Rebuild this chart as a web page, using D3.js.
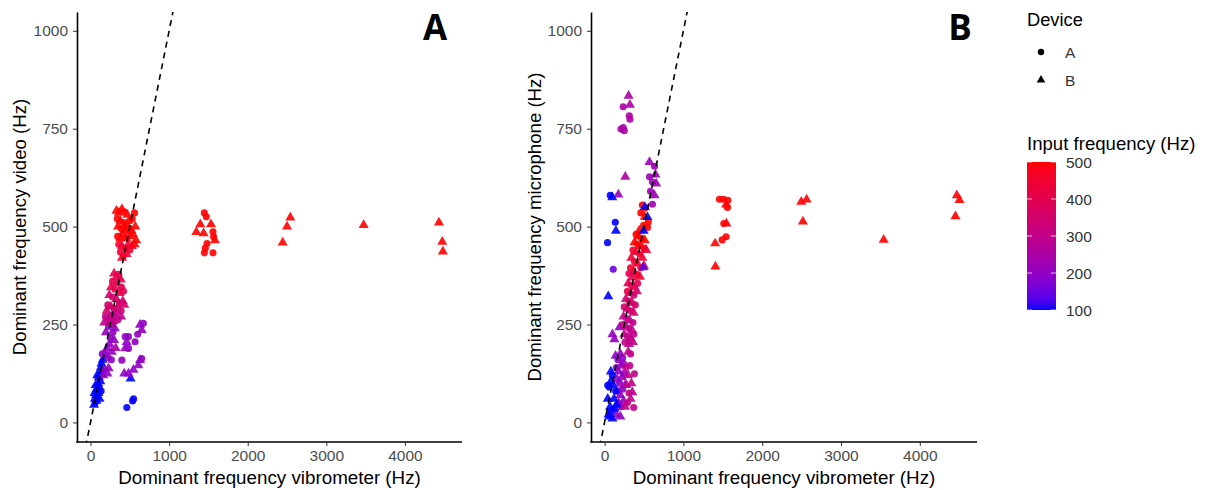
<!DOCTYPE html>
<html>
<head>
<meta charset="utf-8">
<script src="https://cdn.jsdelivr.net/npm/d3@7"></script>
<style>
  body { margin: 0; background: #fff; }
  text { font-family: "Liberation Sans", Arial, sans-serif; }
</style>
</head>
<body>
<script>
// each row: [vibrometer Hz, measured Hz, input frequency Hz, device]
var pointsA = [
  // blue band
  [45,45,100,'B'],[55,60,100,'B'],[60,50,100,'A'],[70,70,100,'B'],[75,55,100,'B'],[80,85,100,'B'],
  [90,65,100,'A'],[95,100,100,'B'],[100,75,100,'B'],[105,115,100,'B'],[110,90,100,'A'],[120,125,100,'B'],
  [125,105,100,'B'],[130,140,100,'B'],[140,150,100,'B'],[150,130,100,'A'],[155,160,100,'B'],[85,120,100,'B'],
  [65,95,100,'B'],[115,60,100,'B'],[135,80,100,'A'],[50,75,100,'B'],
  [462,38,100,'A'],[535,55,100,'A'],[548,60,100,'A'],[510,112,100,'B'],
  // purple, left band
  [160,120,200,'B'],[175,135,200,'A'],[190,175,200,'A'],[210,190,200,'B'],[225,165,200,'A'],[240,200,200,'B'],
  [255,215,200,'A'],[270,180,200,'B'],[285,230,200,'A'],[300,210,200,'B'],[150,175,200,'A'],[195,230,200,'B'],
  [230,245,200,'A'],[265,160,200,'A'],[310,240,200,'B'],[280,250,250,'A'],[245,255,250,'B'],[320,190,250,'B'],
  [230,138,200,'B'],[215,125,200,'B'],
  // purple, right group
  [441,219,200,'A'],[483,219,200,'A'],[441,189,200,'B'],[483,189,200,'A'],[399,159,200,'A'],[567,206,200,'A'],
  [672,253,200,'A'],[630,249,200,'B'],[651,236,200,'B'],[651,163,200,'A'],[630,159,200,'B'],[609,146,200,'B'],
  [546,134,200,'B'],[483,125,200,'B'],[429,125,200,'B'],[600,225,200,'A'],[460,205,200,'B'],
  // magenta band
  [300,380,400,'B'],[330,372,400,'B'],[360,378,400,'A'],[385,365,400,'B'],[280,360,400,'A'],[340,355,400,'B'],
  [395,345,400,'A'],[260,345,400,'B'],[310,340,400,'A'],[370,330,400,'B'],[420,335,400,'A'],
  [240,325,350,'B'],[280,320,350,'A'],[330,315,350,'B'],[370,305,350,'A'],[410,310,350,'B'],[220,300,350,'A'],
  [260,295,350,'B'],[300,290,350,'A'],[345,295,350,'B'],[390,285,350,'A'],[430,300,350,'B'],[205,285,350,'B'],
  [190,270,300,'A'],[230,265,300,'B'],[270,275,300,'A'],[310,268,300,'B'],[350,262,300,'A'],[390,270,300,'B'],
  [250,255,300,'A'],[290,258,300,'B'],[175,255,300,'B'],[330,280,300,'A'],
  // red group
  [330,540,500,'B'],[360,535,500,'B'],[400,545,500,'B'],[430,538,500,'A'],[560,535,500,'A'],[470,530,500,'B'],
  [340,520,500,'A'],[380,515,500,'B'],[420,510,500,'A'],[460,505,500,'B'],[500,515,500,'A'],[530,520,500,'A'],
  [350,500,500,'B'],[390,495,500,'A'],[440,490,500,'B'],[480,495,500,'A'],[520,490,500,'B'],[570,500,500,'B'],
  [345,475,500,'A'],[380,470,500,'B'],[410,480,500,'A'],[455,470,500,'B'],[500,475,500,'B'],[540,480,500,'B'],
  [580,465,500,'B'],[360,455,450,'A'],[400,450,450,'B'],[440,445,450,'A'],[480,455,450,'B'],[525,450,450,'B'],
  [560,455,500,'B'],[380,435,450,'A'],[420,425,450,'A'],[460,430,450,'B'],[500,440,450,'A'],[400,420,450,'B'],
  // far red
  [1448,535,500,'A'],[1473,525,500,'A'],[1397,506,500,'B'],[1533,506,500,'B'],[1346,486,500,'B'],[1439,483,500,'B'],
  [1558,487,500,'A'],[1566,474,500,'A'],[1583,465,500,'B'],[1482,457,500,'A'],[1460,445,500,'A'],[1448,433,500,'A'],
  [1558,433,500,'A'],
  [2445,459,500,'B'],[2500,500,500,'B'],[2542,523,500,'B'],[3475,504,500,'B'],[4433,510,500,'B'],[4475,461,500,'B'],
  [4483,436,500,'B']
];

var pointsB = [
  // lower band
  [100,225,200,'B'],[125,212,200,'B'],[190,243,200,'B'],[140,170,200,'B'],[170,160,200,'A'],[200,175,200,'B'],
  [230,165,200,'A'],[150,140,200,'A'],[180,130,200,'B'],[210,145,200,'B'],[240,150,200,'A'],[160,110,200,'B'],
  [190,100,200,'A'],[220,115,200,'B'],[250,125,200,'A'],[170,80,200,'A'],[200,70,200,'B'],[230,85,200,'A'],
  [180,50,200,'B'],[210,40,200,'A'],[240,55,200,'B'],[200,15,200,'B'],[150,20,200,'B'],[260,95,200,'B'],
  [270,140,300,'A'],[300,120,300,'B'],[320,145,300,'A'],[280,95,300,'B'],[310,75,300,'A'],[340,100,300,'B'],
  [290,50,300,'A'],[330,60,300,'B'],[379,124,300,'A'],[370,38,300,'A'],[353,77,300,'B'],[260,40,300,'B'],
  [300,180,300,'B'],[330,175,300,'A'],
  [40,60,100,'B'],[60,90,100,'A'],[80,105,100,'B'],[100,120,100,'A'],[110,95,100,'B'],[70,40,100,'B'],
  [90,30,100,'A'],[120,60,100,'B'],[130,35,100,'B'],[50,20,100,'B'],[100,10,100,'B'],[140,80,100,'A'],
  [80,130,100,'B'],[60,15,100,'B'],[150,45,100,'B'],[40,95,100,'A'],
  // magenta band
  [300,355,400,'B'],[340,350,400,'A'],[380,345,400,'B'],[420,355,400,'A'],[290,335,400,'A'],[330,330,400,'B'],
  [370,325,350,'A'],[410,335,350,'B'],[270,315,350,'B'],[310,310,350,'A'],[350,305,350,'B'],[390,300,350,'A'],
  [250,295,350,'A'],[290,290,350,'B'],[330,285,350,'A'],[370,280,350,'B'],[240,270,300,'B'],[280,265,300,'A'],
  [320,260,300,'B'],[360,255,300,'A'],[230,250,300,'A'],[270,245,300,'B'],[310,240,300,'A'],[350,235,300,'B'],
  [250,225,300,'B'],[290,220,300,'A'],[330,215,300,'B'],[370,225,300,'A'],[260,205,300,'A'],[310,200,300,'B'],
  [360,205,300,'B'],
  // red band
  [480,555,500,'A'],[520,548,500,'A'],[460,535,500,'A'],[510,525,500,'B'],[555,512,500,'A'],[545,498,500,'A'],
  [495,503,500,'A'],[440,490,500,'B'],[400,480,500,'A'],[430,475,500,'B'],[470,470,500,'A'],[510,465,500,'B'],
  [380,460,500,'B'],[420,455,500,'A'],[460,450,500,'B'],[500,445,450,'A'],[530,440,450,'B'],[360,440,450,'A'],
  [400,435,450,'B'],[445,430,450,'A'],[480,420,450,'B'],[340,420,450,'B'],[380,410,450,'A'],[420,405,450,'B'],
  [460,395,450,'A'],[500,400,450,'B'],[330,395,450,'A'],[370,385,450,'B'],[410,378,450,'A'],[450,372,450,'B'],
  [350,370,400,'B'],[310,380,400,'A'],
  // outliers above the band
  [305,834,250,'B'],[322,811,250,'B'],[237,806,250,'A'],[314,783,250,'A'],[322,774,250,'A'],[237,753,250,'A'],
  [208,749,250,'A'],[250,745,250,'A'],[263,627,250,'B'],
  [570,665,220,'B'],[634,654,220,'A'],[570,627,220,'A'],[646,633,220,'B'],[608,614,220,'A'],[655,610,220,'B'],
  [583,590,220,'A'],[634,580,220,'B'],[608,557,220,'A'],[175,582,220,'B'],
  [72,580,100,'A'],[98,575,100,'B'],[136,511,100,'A'],[144,489,100,'B'],[38,459,100,'A'],[110,391,150,'A'],
  [47,322,100,'B'],[510,550,100,'B'],[545,524,100,'B'],[496,489,100,'B'],[492,396,130,'B'],
  // far red
  [1403,457,500,'B'],[1407,398,500,'B'],[1458,570,500,'A'],[1510,570,500,'A'],[1564,567,500,'A'],[1542,556,500,'B'],
  [1559,549,500,'A'],[1513,508,500,'A'],[1547,508,500,'B'],[1542,474,500,'A'],[1492,466,500,'A'],
  [2496,563,500,'B'],[2564,569,500,'B'],[2517,513,500,'B'],[3542,466,500,'B'],[4470,580,500,'B'],[4504,568,500,'B'],
  [4453,526,500,'B']
];

var xTicks = [0, 1000, 2000, 3000, 4000];
var yTicks = [0, 250, 500, 750, 1000];
var colourTicks = [100, 200, 300, 400, 500];
var devices = ['A', 'B'];

var svg = d3.select('body').append('svg')
  .attr('width', 1208)
  .attr('height', 490);

var colour = d3.scaleLinear()
  .domain([100, 500])
  .range(['blue', 'red'])
  .interpolate(d3.interpolateLab);

var shape = d3.scaleOrdinal()
  .domain(devices)
  .range([d3.symbolCircle, d3.symbolTriangle]);

var panels = [
  { id: 'A', data: pointsA, left: 77, right: 462, ytitle: 'Dominant frequency video (Hz)', ytitleX: 26, labelX: 435 },
  { id: 'B', data: pointsB, left: 591, right: 977, ytitle: 'Dominant frequency microphone (Hz)', ytitleX: 541, labelX: 960 }
];

var plotTop = 12, plotBottom = 442;

panels.forEach(function (p) {
  var x = d3.scaleLinear().domain([-172, 4726]).range([p.left, p.right]);
  var y = d3.scaleLinear().domain([-50, 1048]).range([plotBottom, plotTop]);

  var g = svg.append('g');

  g.append('clipPath')
    .attr('id', 'clip' + p.id)
    .append('rect')
    .attr('x', p.left)
    .attr('y', plotTop)
    .attr('width', p.right - p.left)
    .attr('height', plotBottom - plotTop);

  var plot = g.append('g').attr('clip-path', 'url(#clip' + p.id + ')');

  plot.selectAll('path.pt')
    .data(p.data)
    .enter().append('path')
    .attr('class', 'pt')
    .attr('transform', function (d) { return 'translate(' + x(d[0]) + ',' + y(d[1]) + ')'; })
    .attr('d', function (d) {
      return d3.symbol().type(shape(d[3])).size(d[3] == 'A' ? 40 : 44)();
    })
    .attr('fill', function (d) { return colour(d[2]); })
    .attr('fill-opacity', 0.9);

  // y = x reference
  plot.append('line')
    .attr('x1', x(-172)).attr('y1', y(-172))
    .attr('x2', x(1200)).attr('y2', y(1200))
    .attr('stroke', '#000')
    .attr('stroke-width', 1.6)
    .attr('stroke-dasharray', '6,5');

  var xa = g.append('g')
    .attr('transform', 'translate(0,' + plotBottom + ')')
    .call(d3.axisBottom(x).tickValues(xTicks).tickFormat(d3.format('d'))
      .tickSize(4).tickSizeOuter(0).tickPadding(4));

  var ya = g.append('g')
    .attr('transform', 'translate(' + p.left + ',0)')
    .call(d3.axisLeft(y).tickValues(yTicks).tickFormat(d3.format('d'))
      .tickSize(4).tickSizeOuter(0).tickPadding(5));

  [xa, ya].forEach(function (a) {
    a.select('.domain').attr('stroke', '#000').attr('stroke-width', 1.6);
    a.selectAll('.tick line').attr('stroke', '#333');
    a.selectAll('.tick text')
      .attr('fill', '#4D4D4D')
      .style('font-size', '15.5px')
      .style('font-family', '"Liberation Sans", Arial, sans-serif');
  });
  // extend x axis line to meet y axis
  xa.select('.domain').attr('d', 'M' + (p.left - 0.8) + ',0H' + p.right);

  g.append('text')
    .attr('x', (p.left + p.right) / 2)
    .attr('y', 484)
    .style('text-anchor', 'middle')
    .style('font-size', '18.8px')
    .text('Dominant frequency vibrometer (Hz)');

  g.append('text')
    .attr('transform', 'translate(' + p.ytitleX + ',' + ((plotTop + plotBottom) / 2) + ') rotate(-90)')
    .style('text-anchor', 'middle')
    .style('font-size', '18.6px')
    .text(p.ytitle);

  g.append('text')
    .attr('x', p.labelX)
    .attr('y', 40)
    .style('text-anchor', 'middle')
    .style('font-family', '"Open Sans", "DejaVu Sans", sans-serif')
    .style('font-weight', 'bold')
    .style('font-size', '35px')
    .text(p.id);
});

// legend: device
var leg = svg.append('g').attr('transform', 'translate(1027,0)');

leg.append('text')
  .attr('x', 0)
  .attr('y', 26)
  .style('font-size', '18.3px')
  .text('Device');

var items = leg.selectAll('g.dev')
  .data(devices)
  .enter().append('g')
  .attr('class', 'dev')
  .attr('transform', function (d, i) { return 'translate(0,' + (52 + i * 28) + ')'; });

items.append('path')
  .attr('transform', 'translate(14,0)')
  .attr('d', function (d) { return d3.symbol().type(shape(d)).size(32)(); })
  .attr('fill', '#000');

items.append('text')
  .attr('x', 38)
  .attr('dy', '0.36em')
  .style('font-size', '15.5px')
  .attr('fill', '#333')
  .text(function (d) { return d; });

// legend: colour bar
leg.append('text')
  .attr('x', 0)
  .attr('y', 150)
  .style('font-size', '18.6px')
  .text('Input frequency (Hz)');

var cy = d3.scaleLinear().domain([100, 500]).range([310, 162]);

var grad = svg.append('defs').append('linearGradient')
  .attr('id', 'cbar')
  .attr('x1', 0).attr('y1', 1).attr('x2', 0).attr('y2', 0);

grad.selectAll('stop')
  .data(d3.range(0, 1.0001, 0.05))
  .enter().append('stop')
  .attr('offset', function (d) { return d; })
  .attr('stop-color', function (d) { return colour(100 + d * 400); });

leg.append('rect')
  .attr('x', 0)
  .attr('y', cy(500))
  .attr('width', 29)
  .attr('height', cy(100) - cy(500))
  .attr('fill', 'url(#cbar)');

var ct = leg.selectAll('g.ct')
  .data(colourTicks)
  .enter().append('g')
  .attr('class', 'ct')
  .attr('transform', function (d) { return 'translate(0,' + cy(d) + ')'; });

ct.append('line').attr('x1', 0).attr('x2', 5).attr('stroke', '#fff').attr('stroke-opacity', 0.7);
ct.append('line').attr('x1', 24).attr('x2', 29).attr('stroke', '#fff').attr('stroke-opacity', 0.7);

ct.append('text')
  .attr('x', 39)
  .attr('dy', '0.36em')
  .style('font-size', '15.5px')
  .attr('fill', '#333')
  .text(function (d) { return d; });
</script>
</body>
</html>
